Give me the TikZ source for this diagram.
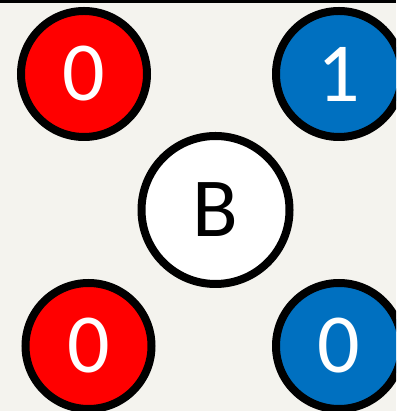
\documentclass[tikz,border=0pt]{standalone}
\usepackage{fontspec}
\setmainfont{Carlito}
\usepackage{tikz}
\definecolor{bgpaper}{HTML}{F4F3EE}
\definecolor{bitred}{HTML}{FF0000}
\definecolor{bitblue}{HTML}{0070C0}

\begin{document}
\begin{tikzpicture}[x=1pt, y=1pt,
    bit/.style = {draw, circle, line width=8pt, inner sep=0pt, minimum size=126pt, text=white, font=\fontsize{84}{84}\selectfont},
    center/.style = {draw, circle, line width=8pt, inner sep=0pt, minimum size=148pt, fill=white, font=\fontsize{84}{84}\selectfont}]
        \useasboundingbox (0,0) rectangle (396,411);
        \clip (0,0) rectangle (396,411);
        \fill[bgpaper] (0,0) rectangle (396,411);
        \fill[black] (0,408) rectangle (396,411);
        \node[bit, fill=bitred] (tl) at (84,337) {0};
        \node[bit, fill=bitblue] (tr) at (339,337) {1};
        \node[center] (b) at (215.5,201) {B};
        \node[bit, fill=bitred] (bl) at (88.5,65) {0};
        \node[bit, fill=bitblue] (br) at (339,65) {0};
      \end{tikzpicture}
\end{document}
